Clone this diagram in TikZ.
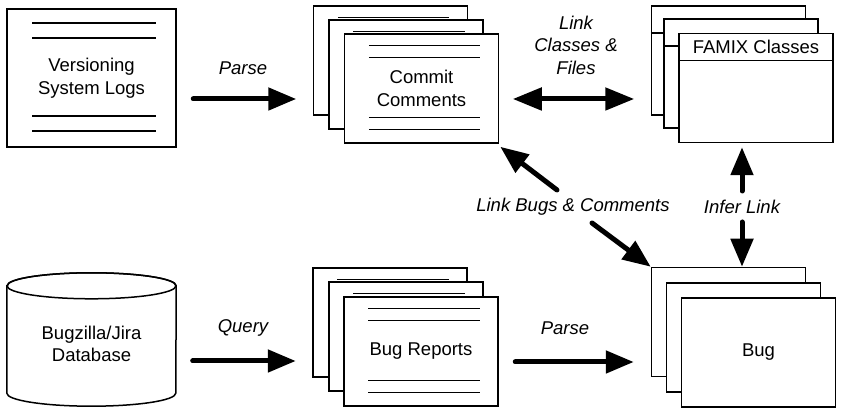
\documentclass[tikz,border=0pt]{standalone}
\usepackage{fontspec}
\setmainfont{Liberation Sans}
\usetikzlibrary{arrows.meta,calc}
\newcommand\dgfont{\fontsize{18.5}{22.5}\selectfont}
\tikzset{
  sheet/.style={draw, line width=1.5pt, fill=white, minimum width=154pt,
    minimum height=109pt, inner sep=0pt, align=center, font=\dgfont},
  thinline/.style={line width=1.5pt},
  lbl/.style={font=\dgfont\itshape, align=center, inner sep=0pt},
  bigarrow/.style={-{Triangle[length=28pt,width=22pt]}, line width=5pt, line cap=round},
  dblarrow/.style={{Triangle[length=29pt,width=22pt]}-{Triangle[length=29pt,width=22pt]}, line width=5pt},
}
\newcommand\doclines[1]{%
  \foreach \d in {12.5,24.5,84.5,96.5}{%
    \draw[thinline] ([shift={(25,-\d)}]#1.north west) -- ([shift={(-19,-\d)}]#1.north east);}}
\newcommand\hdrline[1]{%
  \draw[thinline] ([yshift=-28pt]#1.north west) -- ([yshift=-28pt]#1.north east);}
\begin{document}
\begin{tikzpicture}[x=1pt,y=1pt]
\useasboundingbox (0,0) rectangle (844,414);
% Versioning system logs
\node[sheet, minimum width=169pt, minimum height=138pt] (vsl) at (91.5,336) {Versioning\\System Logs};
\foreach \d in {15,30,108,123}{%
  \draw[thinline] ([shift={(26,-\d)}]vsl.north west) -- ([shift={(-21,-\d)}]vsl.north east);}
% Database cylinder
\node[minimum width=169pt, minimum height=133pt, inner sep=0pt, align=center, font=\dgfont] (db) at (91.5,74.5) {};
\draw[line width=1.5pt, fill=white]
  ([yshift=-13pt]db.north west) -- ([yshift=13pt]db.south west)
  arc[start angle=180, end angle=360, x radius=84.5, y radius=13]
  -- ([yshift=-13pt]db.north east)
  arc[start angle=0, end angle=180, x radius=84.5, y radius=13] -- cycle;
\draw[line width=1.5pt] ([yshift=-13pt]db.north) ellipse[x radius=84.5, y radius=13];
\node[font=\dgfont, align=center] (dbt) at ([yshift=-4.5pt]db.center) {Bugzilla/Jira\\Database};
% Commit comments
\node[sheet] (cc1) at (390.5,353.5) {};
\doclines{cc1}
\node[sheet] (cc2) at (406,339.5) {};
\doclines{cc2}
\node[sheet] (cc3) at (421.5,325.5) {Commit\\Comments};
\doclines{cc3}
% Bug reports
\node[sheet] (br1) at (390,91.5) {};
\doclines{br1}
\node[sheet] (br2) at (406,77.5) {};
\doclines{br2}
\node[sheet] (br3) at (421,62.5) {Bug Reports};
\doclines{br3}
% FAMIX classes
\node[sheet] (fc1) at (728.5,353.5) {};
\hdrline{fc1}
\node[sheet] (fc2) at (741,340.5) {};
\hdrline{fc2}
\node[sheet] (fc3) at (756,326) {};
\hdrline{fc3}
\node[font=\dgfont] (famixt) at ([yshift=-14.5pt]fc3.north) {FAMIX Classes};
% Bug
\node[sheet] (bug1) at (728.5,92) {};
\node[sheet] (bug2) at (743.5,76.5) {};
\node[sheet] (bug3) at (758.5,61.5) {Bug};
% Labels
\node[lbl] (lparse1) at (243,346) {Parse};
\node[lbl] (lquery) at (243,86) {Query};
\node[lbl] (lparse2) at (565,86) {Parse};
\node[lbl] (lclass) at (576,369) {Link\\Classes \&\\Files};
\node[lbl] (linfer) at (742,207.5) {Infer Link};
\node[lbl] (lbugs) at (573,207.5) {Link Bugs \& Comments};
% Connectors
\draw[bigarrow] ([shift={(16.5,-21)}]vsl.east) -- ([shift={(-16.5,-38.5)}]cc1.west);
\draw[bigarrow] ([shift={(16.5,-21.5)}]db.east) -- ([shift={(-16.5,-38.5)}]br1.west);
\draw[bigarrow] ([shift={(16.5,-10.5)}]br3.east) -- ([shift={(-17,-40)}]bug1.west);
\draw[dblarrow] ([shift={(13.5,-10.5)}]cc3.east) -- ([shift={(-16.5,-38.5)}]fc1.west);
\draw[bigarrow] ([yshift=15.5pt]linfer.center) -- ([yshift=-4pt]linfer |- fc3.south);
\draw[bigarrow] ([yshift=-15.5pt]linfer.center) -- (linfer |- bug1.north);
\draw[bigarrow] ([shift={(-16,16.5)}]lbugs.center) -- ([shift={(1,-3)}]cc3.south east);
\draw[bigarrow] ([shift={(19,-16.5)}]lbugs.center) -- (bug1.north west);
\end{tikzpicture}
\end{document}
